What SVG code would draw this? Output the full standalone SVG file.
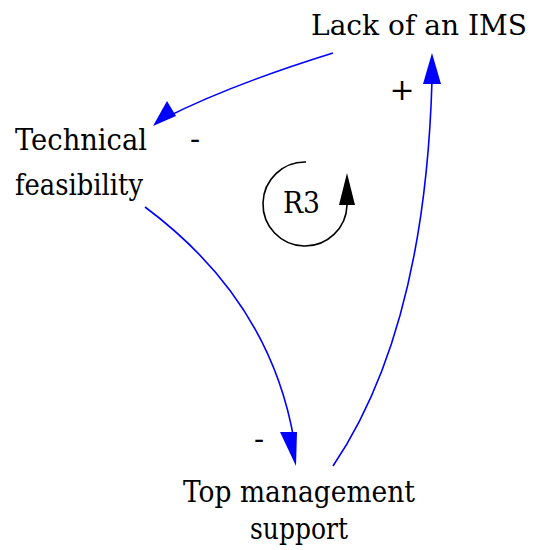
<svg xmlns="http://www.w3.org/2000/svg" width="534" height="550" viewBox="0 0 534 550">
<defs>
<style>
.lbl { font-family: 'DejaVu Serif', serif; font-size: 30px; fill: #000; }
.link { fill: none; stroke: #0000ff; stroke-width: 1.6; }
.loop { fill: none; stroke: #000; stroke-width: 1.6; }
.head { fill: #0000ff; }
</style>
</defs>
<rect width="534" height="550" fill="#fff"/>
<g id="connectors">
<path class="link" d="M333,53 Q230,85 165,118"/>
<path class="link" d="M145,207 Q270,300 294,440"/>
<path class="link" d="M333,466 Q425,330 432,80"/>
<path class="head" d="M153,126 L167,101 L176,116 Z"/>
<path class="head" d="M296,466 L280,432 L297,432 Z"/>
<path class="head" d="M432,53 L423,84 L441,84 Z"/>
</g>
<g id="loop">
<path class="loop" d="M306,162 A42,42 0 1 0 347,205"/>
<path d="M347,173 L339,205 L355,205 Z" fill="#000"/>
<text class="lbl" x="283" y="213" textLength="37" lengthAdjust="spacingAndGlyphs">R3</text>
</g>
<g id="lack">
<text class="lbl" x="311" y="35" style="font-size:27px" textLength="216" lengthAdjust="spacingAndGlyphs">Lack of an IMS</text>
</g>
<g id="technical">
<text class="lbl" x="15" y="150" textLength="132" lengthAdjust="spacingAndGlyphs">Technical</text>
<text class="lbl" x="15" y="195" textLength="128" lengthAdjust="spacingAndGlyphs">feasibility</text>
</g>
<g id="top">
<text class="lbl" x="183" y="502" textLength="232" lengthAdjust="spacingAndGlyphs">Top management</text>
<text class="lbl" x="250" y="539" textLength="98" lengthAdjust="spacingAndGlyphs">support</text>
</g>
<g id="polarity">
<text class="lbl" x="195" y="149" text-anchor="middle">-</text>
<text class="lbl" x="402" y="100" text-anchor="middle">+</text>
<text class="lbl" x="259" y="449" text-anchor="middle">-</text>
</g>
</svg>
